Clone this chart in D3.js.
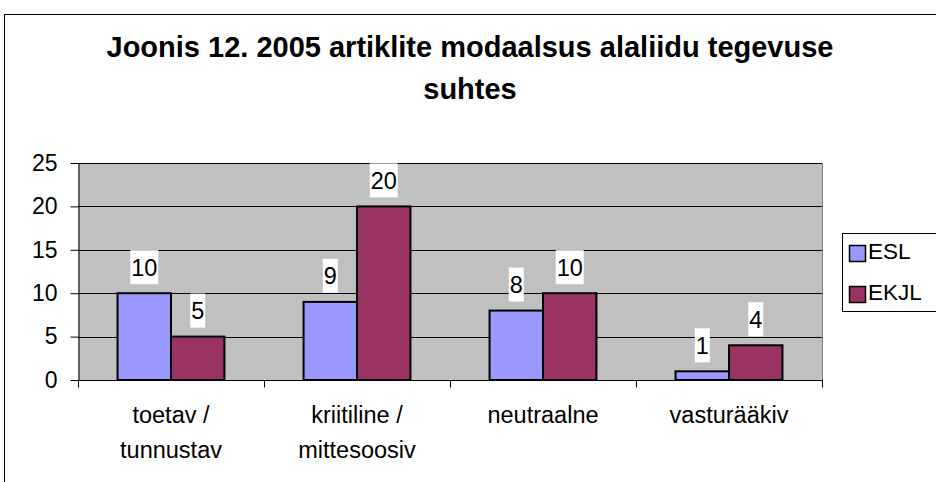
<!DOCTYPE html>
<html lang="et">
<head>
  <meta charset="UTF-8">
  <title>Joonis 12</title>
  <script src="https://d3js.org/d3.v7.min.js"></script>
  <style>
    body { margin: 0; background: #fff; font-family: Arial, "Liberation Sans", sans-serif; }
  </style>
</head>
<body>
  <div id="chart"></div>
  <script>
    const categories = [["toetav /", "tunnustav"], ["kriitiline /", "mittesoosiv"], ["neutraalne"], ["vasturääkiv"]];
    const seriesNames = ["ESL", "EKJL"];
    const esl = [10, 9, 8, 1];
    const ekjl = [5, 20, 10, 4];
    const yTicks = [0, 5, 10, 15, 20, 25];
    const colors = ["#9999FF", "#993366"];

    const W = 936, H = 482;
    const plot = {left: 78, right: 822, top: 163, bottom: 380};
    const font = "Arial, 'Liberation Sans', sans-serif";

    const svg = d3.select("#chart").append("svg")
      .attr("width", W).attr("height", H)
      .style("font-family", font);

    // outer frame
    svg.append("rect")
      .attr("x", 4.5).attr("y", 14.5)
      .attr("width", W).attr("height", H)
      .attr("fill", "#fff").attr("stroke", "#000").attr("stroke-width", 1);

    // title
    const title = svg.append("text")
      .attr("text-anchor", "middle")
      .attr("font-size", 29).attr("font-weight", "bold");
    title.append("tspan").attr("x", 470).attr("y", 57).text("Joonis 12. 2005 artiklite modaalsus alaliidu tegevuse");
    title.append("tspan").attr("x", 470).attr("y", 99).text("suhtes");

    const idx = d3.range(categories.length);
    const x0 = d3.scaleBand().domain(idx).range([plot.left, plot.right]);
    const x1 = d3.scaleBand().domain([0, 1]).range([0, x0.bandwidth()]).paddingOuter(0.74).paddingInner(0);
    const y = d3.scaleLinear().domain([0, 25]).range([plot.bottom, plot.top]);

    // plot area
    svg.append("rect")
      .attr("x", plot.left).attr("y", plot.top)
      .attr("width", plot.right - plot.left).attr("height", plot.bottom - plot.top)
      .attr("fill", "#C0C0C0");

    // gridlines
    svg.append("g").selectAll("line").data(yTicks.filter(d => d > 0)).join("line")
      .attr("x1", plot.left).attr("x2", plot.right)
      .attr("y1", d => Math.round(y(d)) + 0.5).attr("y2", d => Math.round(y(d)) + 0.5)
      .attr("stroke", "#000").attr("stroke-width", 1);

    // right border of plot
    svg.append("line")
      .attr("x1", plot.right + 0.5).attr("x2", plot.right + 0.5)
      .attr("y1", plot.top).attr("y2", plot.bottom)
      .attr("stroke", "#808080");

    // y axis
    const yAxis = svg.append("g")
      .attr("transform", `translate(${plot.left + 0.5},0)`)
      .call(d3.axisLeft(y).tickValues(yTicks).tickSize(8).tickPadding(13).tickSizeOuter(0));
    yAxis.selectAll("text").attr("font-size", 23).attr("font-family", font).attr("fill", "#000");
    yAxis.selectAll("line,path").attr("stroke", "#000");

    // x axis
    const xAxisG = svg.append("g").attr("transform", `translate(0,${plot.bottom + 0.5})`);
    xAxisG.append("line").attr("x1", plot.left).attr("x2", plot.right + 1).attr("stroke", "#000");
    xAxisG.selectAll(".tk").data(d3.range(categories.length + 1)).join("line")
      .attr("x1", d => Math.round(plot.left + d * x0.bandwidth()) + 0.5)
      .attr("x2", d => Math.round(plot.left + d * x0.bandwidth()) + 0.5)
      .attr("y1", 0).attr("y2", 7).attr("stroke", "#000");
    const xl = xAxisG.selectAll(".lbl").data(idx).join("text")
      .attr("text-anchor", "middle").attr("font-size", 23.5);
    xl.each(function(d) {
      const t = d3.select(this);
      categories[d].forEach((line, i) => {
        t.append("tspan").attr("x", x0(d) + x0.bandwidth() / 2).attr("y", 42 + i * 35).text(line);
      });
    });

    // bars
    const series = [esl, ekjl];
    series.forEach((vals, s) => {
      const g = svg.append("g");
      g.selectAll("rect").data(vals).join("rect")
        .attr("x", (d, i) => x0(i) + x1(s))
        .attr("y", d => y(d))
        .attr("width", x1.bandwidth())
        .attr("height", d => y(0) - y(d))
        .attr("fill", colors[s]).attr("stroke", "#000").attr("stroke-width", 2);

      const lab = g.selectAll("g.lab").data(vals).join("g")
        .attr("transform", (d, i) => `translate(${x0(i) + x1(s) + x1.bandwidth() / 2},${y(d) - 26})`);
      lab.append("rect")
        .attr("x", d => -String(d).length * 6.5 - 1).attr("y", -17)
        .attr("width", d => String(d).length * 13 + 2).attr("height", 34)
        .attr("fill", "#fff");
      lab.append("text")
        .attr("text-anchor", "middle").attr("dy", "0.36em")
        .attr("font-size", 23.5).text(d => d);
    });

    // legend
    const leg = svg.append("g");
    leg.append("rect").attr("x", 842.5).attr("y", 233.5).attr("width", 120).attr("height", 78)
      .attr("fill", "#fff").attr("stroke", "#000");
    seriesNames.forEach((n, i) => {
      leg.append("rect").attr("x", 849.5).attr("y", 245.5 + i * 41).attr("width", 16).attr("height", 16)
        .attr("fill", colors[i]).attr("stroke", "#000").attr("stroke-width", 1.5);
      leg.append("text").attr("x", 868).attr("y", 259 + i * 41)
        .attr("font-size", 22.5).text(n);
    });
  </script>
</body>
</html>
